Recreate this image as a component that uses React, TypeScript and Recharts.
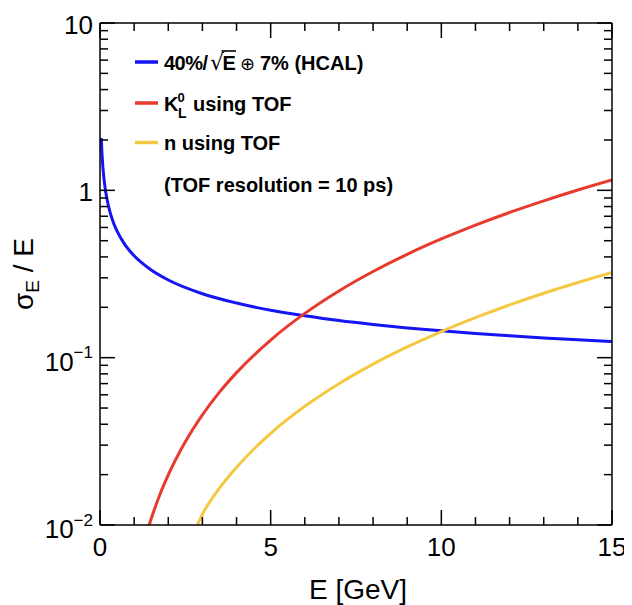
import { Line, LineChart, XAxis, YAxis } from "recharts";

// sigma_E / E, E in GeV
const hcalEnergy = [0.038, 0.05, 0.075, 0.1, 0.15, 0.2, 0.3, 0.4, 0.5, 0.75, 1, 1.5, 2, 3, 4, 5, 6, 7, 8, 9, 10, 11, 12, 13, 14, 15];
const hcalRes = [2.053, 1.79, 1.462, 1.267, 1.035, 0.897, 0.734, 0.636, 0.57, 0.467, 0.406, 0.334, 0.291, 0.241, 0.212, 0.192, 0.178, 0.1666, 0.1578, 0.1506, 0.1446, 0.1394, 0.135, 0.1312, 0.1278, 0.1248];

const kaonEnergy = [1.4, 1.5, 1.75, 2, 2.5, 3, 3.5, 4, 5, 6, 7, 8, 9, 10, 11, 12, 13, 14, 15];
const kaonRes = [0.0094, 0.0109, 0.0151, 0.0199, 0.0314, 0.0455, 0.0622, 0.0814, 0.1275, 0.1839, 0.2506, 0.3275, 0.4147, 0.512, 0.6197, 0.7377, 0.8658, 1.0043, 1.1529];

const neutronEnergy = [2.7, 2.85, 3, 3.5, 4, 5, 6, 7, 8, 9, 10, 11, 12, 13, 14, 15];
const neutronRes = [0.0088, 0.01, 0.0116, 0.0166, 0.0221, 0.0353, 0.0512, 0.0699, 0.0915, 0.1159, 0.1433, 0.1735, 0.2066, 0.2426, 0.2814, 0.3231];

const xMajorTicks = [0, 5, 10, 15];
const xMinorTicks = [1, 2, 3, 4, 6, 7, 8, 9, 11, 12, 13, 14];
const yMajorTicks = [0.01, 0.1, 1, 10];
const yMinorTicks = [0.02, 0.03, 0.04, 0.05, 0.06, 0.07, 0.08, 0.09, 0.2, 0.3, 0.4, 0.5, 0.6, 0.7, 0.8, 0.9, 2, 3, 4, 5, 6, 7, 8, 9];
const yTickExponents = ["-2", "-1", "0", "1"];

const COLORS = { hcal: "#1414f5", kaon: "#e83a2e", neutron: "#f5c842" };

const toRows = (es: number[], rs: number[]) => es.map((e, i) => ({ e, r: rs[i] }));
const hcalData = toRows(hcalEnergy, hcalRes);
const kaonData = toRows(kaonEnergy, kaonRes);
const neutronData = toRows(neutronEnergy, neutronRes);
const xTicks = [...xMajorTicks, ...xMinorTicks].sort((a, b) => a - b);
const yTicks = [...yMajorTicks, ...yMinorTicks].sort((a, b) => a - b);

const FONT = '"Liberation Sans", Arial, Helvetica, sans-serif';
const W = 624;
const H = 597;
const MAJOR = 15;
const MINOR = 8;

// ROOT style: ticks point into the frame, drawn from the axis' own tick positions
function BottomTick({ x, y, payload }: any) {
  const major = xMajorTicks.includes(payload.value);
  return (
    <g>
      <line x1={x} x2={x} y1={y} y2={y - (major ? MAJOR : MINOR)} stroke="#000" strokeWidth={1.5} />
      {major && (
        <text x={x} y={y + 31} textAnchor="middle" fontSize={26} fontFamily={FONT} fill="#000">
          {payload.value}
        </text>
      )}
    </g>
  );
}

function TopTick({ x, y, payload }: any) {
  const major = xMajorTicks.includes(payload.value);
  return <line x1={x} x2={x} y1={y} y2={y + (major ? MAJOR : MINOR)} stroke="#000" strokeWidth={1.5} />;
}

function LeftTick({ x, y, payload }: any) {
  const idx = yMajorTicks.indexOf(payload.value);
  const major = idx >= 0;
  const exp = yTickExponents[idx];
  let label = null;
  if (exp === "0" || exp === "1") {
    label = (
      <text x={x - 7} y={y + 11} textAnchor="end" fontSize={26} fontFamily={FONT} fill="#000">
        {exp === "0" ? "1" : "10"}
      </text>
    );
  } else if (major) {
    label = (
      <text x={x - 7} y={y + 13} textAnchor="end" fontSize={26} fontFamily={FONT} fill="#000">
        10
        <tspan fontSize={17} dy={-12.5}>
          {"\u2212" + exp.slice(1)}
        </tspan>
      </text>
    );
  }
  return (
    <g>
      <line x1={x} x2={x + (major ? MAJOR : MINOR)} y1={y} y2={y} stroke="#000" strokeWidth={1.5} />
      {label}
    </g>
  );
}

function RightTick({ x, y, payload }: any) {
  const major = yMajorTicks.includes(payload.value);
  return <line x1={x} x2={x - (major ? MAJOR : MINOR)} y1={y} y2={y} stroke="#000" strokeWidth={1.5} />;
}

function Overlay() {
  const bold = { fontFamily: FONT, fontWeight: 700, fontSize: 20, fill: "#000" } as const;
  return (
    <svg width={W} height={H} style={{ position: "absolute", left: 0, top: 0, pointerEvents: "none" }}>
      {/* legend */}
      <line x1={127} x2={150} y1={54} y2={54} stroke={COLORS.hcal} strokeWidth={3.5} />
      <text x={156} y={62} {...bold} letterSpacing={-0.5}>
        40%/
      </text>
      <text x={202} y={62} fontFamily='"DejaVu Sans", sans-serif' fontSize={22} fill="#000">
        {"\u221A"}
      </text>
      <text x={214.5} y={62} {...bold}>
        E
      </text>
      <line x1={213.5} x2={228} y1={43} y2={43} stroke="#000" strokeWidth={1.6} />
      <text x={232} y={62} fontFamily='"DejaVu Sans", sans-serif' fontSize={18} fill="#000">
        {"\u2295"}
      </text>
      <text x={252} y={62} {...bold}>
        7% (HCAL)
      </text>

      <line x1={127} x2={150} y1={95} y2={95} stroke={COLORS.kaon} strokeWidth={3.5} />
      <text x={156} y={102.7} {...bold}>K</text>
      <text x={169.5} y={94.3} {...bold} fontSize={13}>0</text>
      <text x={170} y={109.5} {...bold} fontSize={14}>L</text>
      <text x={185} y={102.7} {...bold}>using TOF</text>

      <line x1={127} x2={150} y1={134.5} y2={134.5} stroke={COLORS.neutron} strokeWidth={3.5} />
      <text x={156} y={142} {...bold}>n using TOF</text>

      <text x={156} y={183.7} {...bold}>(TOF resolution = 10 ps)</text>

      {/* axis titles */}
      <text x={399} y={591} textAnchor="end" fontFamily={FONT} fontSize={28} fill="#000">
        E [GeV]
      </text>
      <text transform="translate(25, 230) rotate(-90)" textAnchor="end" fontFamily={FONT} fontSize={28} fill="#000">
        {"\u03C3"}
        <tspan fontSize={19} dy={6}>E</tspan>
        <tspan dy={-6}> / E</tspan>
      </text>
    </svg>
  );
}

const axisCommon = {
  tickLine: false,
  tickSize: 0,
  tickMargin: 0,
  interval: 0 as const,
  allowDataOverflow: true,
  stroke: "#000",
  strokeWidth: 1.5,
};

export default function App() {
  return (
    <div style={{ position: "relative", width: W, height: H, background: "#fff" }}>
      <LineChart width={W} height={H} margin={{ top: 14, right: 19, bottom: 79, left: 91 }}>
        <XAxis xAxisId="b" type="number" dataKey="e" domain={[0, 15]} ticks={xTicks} height={1} tick={BottomTick} {...axisCommon} />
        <XAxis xAxisId="t" orientation="top" type="number" dataKey="e" domain={[0, 15]} ticks={xTicks} height={1} tick={TopTick} {...axisCommon} />
        <YAxis yAxisId="l" type="number" scale="log" domain={[0.01, 10]} ticks={yTicks} width={1} tick={LeftTick} {...axisCommon} />
        <YAxis yAxisId="r" orientation="right" type="number" scale="log" domain={[0.01, 10]} ticks={yTicks} width={1} tick={RightTick} {...axisCommon} />
        <Line xAxisId="b" yAxisId="l" data={hcalData} dataKey="r" type="monotone" stroke={COLORS.hcal} strokeWidth={3} dot={false} isAnimationActive={false} />
        <Line xAxisId="b" yAxisId="l" data={kaonData} dataKey="r" type="monotone" stroke={COLORS.kaon} strokeWidth={3} dot={false} isAnimationActive={false} />
        <Line xAxisId="b" yAxisId="l" data={neutronData} dataKey="r" type="monotone" stroke={COLORS.neutron} strokeWidth={3} dot={false} isAnimationActive={false} />
      </LineChart>
      <Overlay />
    </div>
  );
}
